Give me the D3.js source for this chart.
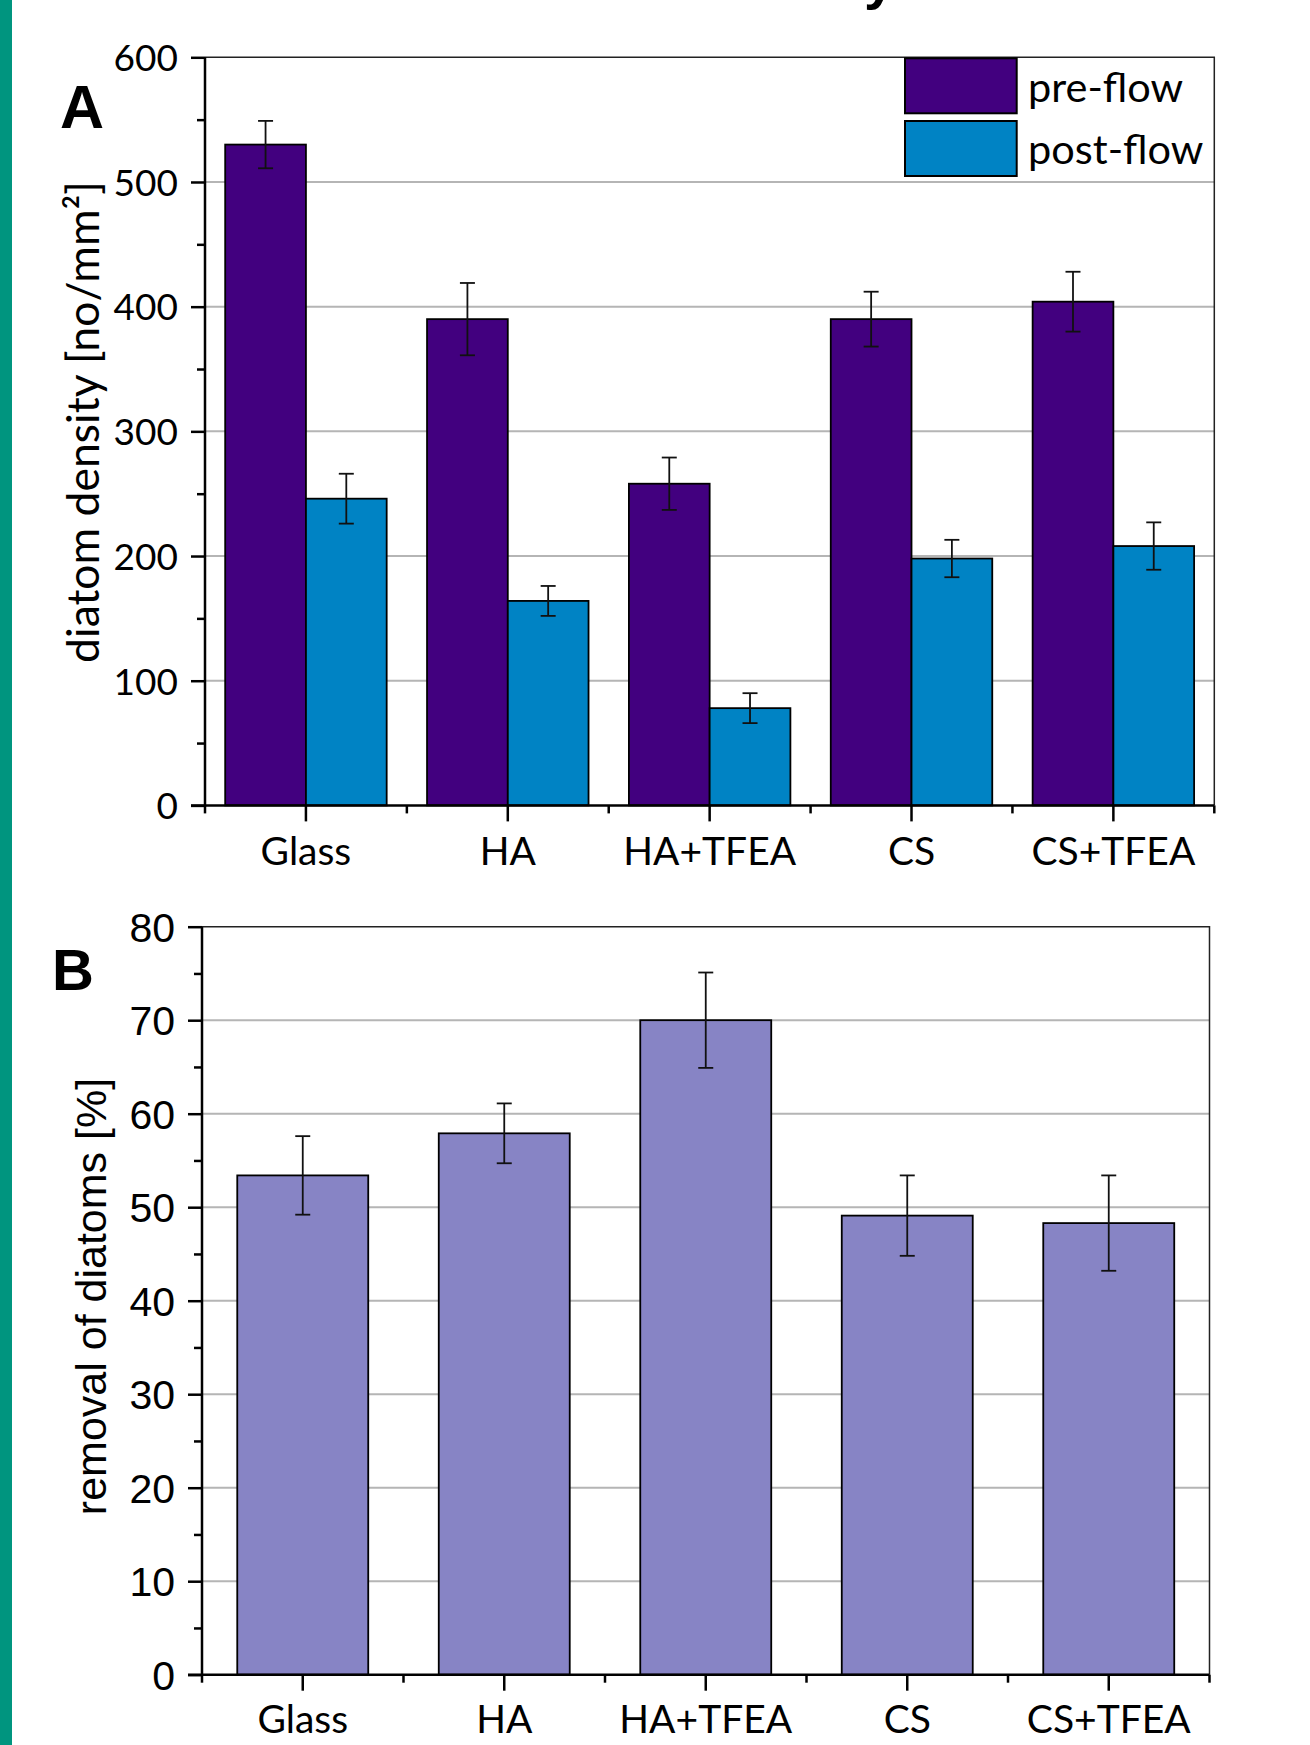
<!DOCTYPE html>
<html>
<head>
<meta charset="utf-8">
<script src="https://cdn.jsdelivr.net/npm/d3@7/dist/d3.min.js"></script>
<style>
  html, body { margin: 0; padding: 0; background: #fff; }
  svg { display: block; }
</style>
</head>
<body>
<svg id="fig" width="1310" height="1745"></svg>
<script>
// Surfaces tested
const categories = ["Glass", "HA", "HA+TFEA", "CS", "CS+TFEA"];

// Panel A: diatom density before and after flow [no/mm²]
const seriesNames = ["pre-flow", "post-flow"];
const preFlow = [530, 390, 258, 390, 404];
const preFlowErr = [19, 29, 21, 22, 24];
const postFlow = [246, 164, 78, 198, 208];
const postFlowErr = [20, 12, 12, 15, 19];
const densityTicks = [0, 100, 200, 300, 400, 500, 600];

// Panel B: removal of diatoms [%]
const removal = [53.4, 57.9, 70.0, 49.1, 48.3];
const removalErr = [4.2, 3.2, 5.1, 4.3, 5.1];
const removalTicks = [0, 10, 20, 30, 40, 50, 60, 70, 80];

const colors = { "pre-flow": "#42007f", "post-flow": "#0083c4", removal: "#8784c5" };
const gridColor = "#b5b5b5";
const sansC = "Lato, 'Open Sans', sans-serif";
const sansA = "'Liberation Sans', Arial, sans-serif";

const svg = d3.select("#fig");

// page accent strip and the heading above the figure, which runs off the top edge
svg.append("rect").attr("x", 0).attr("y", 0).attr("width", 12).attr("height", 1745).attr("fill", "#00957f");
svg.append("text").attr("x", 864).attr("y", -2).attr("font-family", sansA).attr("font-weight", "bold")
  .attr("font-size", 56).attr("fill", "#000").text("y");

function drawFrame(g, y, w, h, ticks) {
  // grid lines
  g.append("g").selectAll("line").data(ticks.slice(1, -1)).join("line")
    .attr("x1", 0).attr("x2", w).attr("y1", d => y(d)).attr("y2", d => y(d))
    .attr("stroke", gridColor).attr("stroke-width", 2);
  // top and right frame
  g.append("path").attr("d", `M0,0H${w}V${h}`).attr("fill", "none").attr("stroke", "#222").attr("stroke-width", 1.5);
}

function drawAxes(g, x, y, w, h, ticks, minorTicks, yFont, yFontSize, xFontSize, labelY) {
  // left axis: major ticks with labels
  const yAxis = g.append("g").call(d3.axisLeft(y).tickValues(ticks).tickSize(14).tickPadding(13).tickFormat(d3.format("d")));
  yAxis.select(".domain").remove();
  yAxis.selectAll(".tick line").attr("stroke", "#000").attr("stroke-width", 2.5);
  yAxis.selectAll("text").attr("font-family", yFont).attr("font-size", yFontSize).attr("fill", "#000").attr("dy", "0.36em");
  // left axis: minor ticks
  const yMinor = g.append("g").call(d3.axisLeft(y).tickValues(minorTicks).tickSize(8).tickFormat(""));
  yMinor.select(".domain").remove();
  yMinor.selectAll(".tick line").attr("stroke", "#000").attr("stroke-width", 2.5);

  // bottom axis: category ticks with labels
  const xAxis = g.append("g").attr("transform", `translate(0,${h})`)
    .call(d3.axisBottom(x).tickSize(16).tickSizeOuter(0));
  xAxis.select(".domain").remove();
  xAxis.selectAll(".tick line").attr("stroke", "#000").attr("stroke-width", 2.5);
  xAxis.selectAll("text").attr("font-family", sansC).attr("font-size", xFontSize).attr("fill", "#000")
    .attr("y", labelY).attr("dy", 0);
  // bottom axis: boundary ticks between categories
  const half = (x.step() - x.bandwidth()) / 2;
  const bounds = x.domain().map(c => x(c) - half).concat([x.range()[1]]);
  g.append("g").selectAll("line").data(bounds).join("line")
    .attr("x1", d => d).attr("x2", d => d).attr("y1", h).attr("y2", h + 8)
    .attr("stroke", "#000").attr("stroke-width", 2.5);

  // axis lines
  g.append("line").attr("x1", 0).attr("x2", 0).attr("y1", 0).attr("y2", h + 1).attr("stroke", "#000").attr("stroke-width", 2.5);
  g.append("line").attr("x1", -14).attr("x2", w).attr("y1", h).attr("y2", h).attr("stroke", "#000").attr("stroke-width", 2.5);
}

function errorBars(g, data, cx, y, cap) {
  const eb = g.append("g").attr("stroke", "#111").attr("stroke-width", 1.8);
  data.forEach((d, i) => {
    const x0 = cx(d, i), top = y(d.v + d.e), bot = y(d.v - d.e);
    eb.append("line").attr("x1", x0).attr("x2", x0).attr("y1", top).attr("y2", bot);
    eb.append("line").attr("x1", x0 - cap / 2).attr("x2", x0 + cap / 2).attr("y1", top).attr("y2", top);
    eb.append("line").attr("x1", x0 - cap / 2).attr("x2", x0 + cap / 2).attr("y1", bot).attr("y2", bot);
  });
}

// ---------- Panel A ----------
{
  const left = 205, right = 1214.3, top = 57.3, bottom = 805.4;
  const w = right - left, h = bottom - top;
  const g = svg.append("g").attr("transform", `translate(${left},${top})`);
  const x = d3.scaleBand().domain(categories).range([0, w]).paddingInner(0.2).paddingOuter(0.1);
  const xs = d3.scaleBand().domain(seriesNames).range([0, x.bandwidth()]);
  const y = d3.scaleLinear().domain([0, 600]).range([h, 0]);

  drawFrame(g, y, w, h, densityTicks);

  const rows = [];
  categories.forEach((c, i) => {
    rows.push({ c, s: "pre-flow", v: preFlow[i], e: preFlowErr[i] });
    rows.push({ c, s: "post-flow", v: postFlow[i], e: postFlowErr[i] });
  });
  g.append("g").selectAll("rect").data(rows).join("rect")
    .attr("x", d => x(d.c) + xs(d.s)).attr("width", xs.bandwidth())
    .attr("y", d => y(d.v)).attr("height", d => y(0) - y(d.v))
    .attr("fill", d => colors[d.s]).attr("stroke", "#000").attr("stroke-width", 1.8);
  errorBars(g, rows, d => x(d.c) + xs(d.s) + xs.bandwidth() / 2, y, 15);

  const minor = d3.range(50, 600, 100);
  drawAxes(g, x, y, w, h, densityTicks, minor, sansC, 37, 39, 60);

  // legend
  const lg = svg.append("g");
  seriesNames.forEach((s, i) => {
    const y0 = 58.3 + i * 62.7;
    lg.append("rect").attr("x", 905).attr("y", y0).attr("width", 111.7).attr("height", 55)
      .attr("fill", colors[s]).attr("stroke", "#000").attr("stroke-width", 2);
    lg.append("text").attr("x", 1028).attr("y", y0 + 43.4).attr("font-family", sansC).attr("font-size", 41.5)
      .attr("fill", "#000").text(s);
  });

  // y-axis title and panel letter
  svg.append("text").attr("transform", "translate(99,422) rotate(-90)").attr("text-anchor", "middle")
    .attr("font-family", sansC).attr("font-size", 44.5).attr("fill", "#000").text("diatom density [no/mm²]");
  svg.append("text").attr("x", 60).attr("y", 127.7).attr("font-family", sansA).attr("font-weight", "bold")
    .attr("font-size", 61).attr("fill", "#000").text("A");
}

// ---------- Panel B ----------
{
  const left = 202, right = 1209.5, top = 926.7, bottom = 1674.7;
  const w = right - left, h = bottom - top;
  const g = svg.append("g").attr("transform", `translate(${left},${top})`);
  const x = d3.scaleBand().domain(categories).range([0, w]).paddingInner(0.35).paddingOuter(0.175);
  const y = d3.scaleLinear().domain([0, 80]).range([h, 0]);

  drawFrame(g, y, w, h, removalTicks);

  const rows = categories.map((c, i) => ({ c, v: removal[i], e: removalErr[i] }));
  g.append("g").selectAll("rect").data(rows).join("rect")
    .attr("x", d => x(d.c)).attr("width", x.bandwidth())
    .attr("y", d => y(d.v)).attr("height", d => y(0) - y(d.v))
    .attr("fill", colors.removal).attr("stroke", "#000").attr("stroke-width", 1.8);
  errorBars(g, rows, d => x(d.c) + x.bandwidth() / 2, y, 15);

  const minor = d3.range(5, 80, 10);
  drawAxes(g, x, y, w, h, removalTicks, minor, sansA, 41, 39, 58);

  svg.append("text").attr("transform", "translate(106,1296.5) rotate(-90)").attr("text-anchor", "middle")
    .attr("font-family", sansA).attr("font-size", 43).attr("fill", "#000").text("removal of diatoms [%]");
  svg.append("text").attr("x", 52).attr("y", 990).attr("font-family", sansA).attr("font-weight", "bold")
    .attr("font-size", 58).attr("fill", "#000").text("B");
}
</script>
</body>
</html>
